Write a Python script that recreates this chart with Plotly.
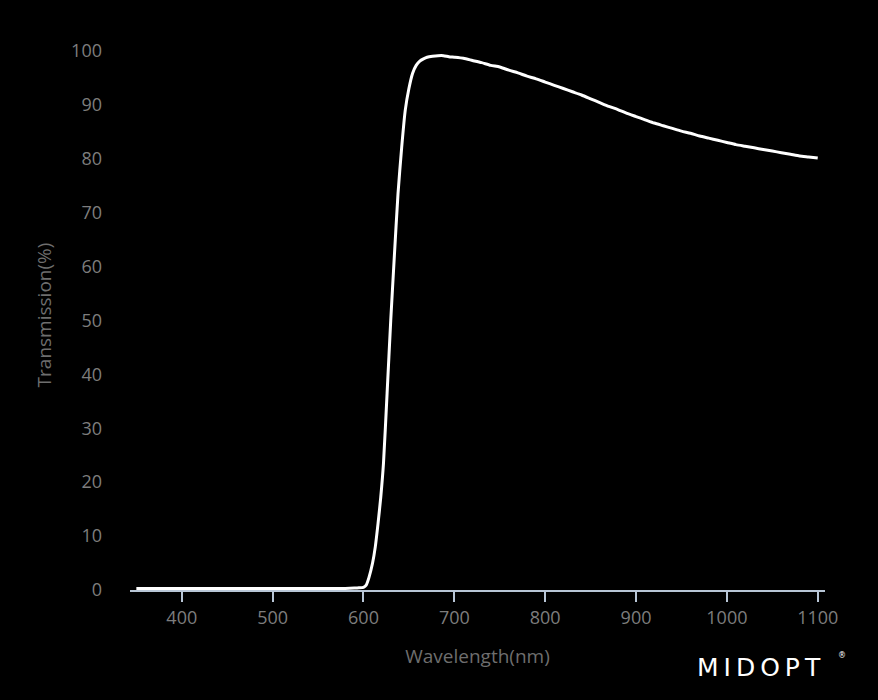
import plotly.graph_objects as go

wavelength = [350, 400, 450, 500, 550, 580, 590, 595, 600, 603, 606, 610, 613, 616, 619, 622, 626, 630, 634, 638,
              642, 646, 650, 654, 658, 662, 666, 670, 676, 682, 688, 694, 700, 710, 720, 730, 740, 750, 760, 770,
              780, 790, 800, 810, 820, 830, 840, 850, 860, 870, 880, 890, 900, 910, 920, 930, 940, 950, 960, 970,
              980, 990, 1000, 1010, 1020, 1030, 1040, 1050, 1060, 1070, 1080, 1090, 1100]
transmission = [0.3, 0.3, 0.3, 0.3, 0.3, 0.3, 0.35, 0.4, 0.5, 0.9, 2.3, 5.0, 8.0, 12.3, 17.2, 23.5, 36.5, 50.0, 62.0, 73.5,
                82.0, 89.0, 93.0, 95.8, 97.3, 98.1, 98.5, 98.8, 99.0, 99.1, 99.1, 98.9, 98.8, 98.6, 98.2, 97.8, 97.3, 97.0, 96.4, 95.9,
                95.3, 94.8, 94.2, 93.6, 93.0, 92.4, 91.8, 91.1, 90.4, 89.7, 89.1, 88.4, 87.8, 87.2, 86.6, 86.1, 85.6, 85.1, 84.7, 84.2,
                83.8, 83.4, 83.0, 82.6, 82.3, 82.0, 81.7, 81.4, 81.1, 80.8, 80.5, 80.3, 80.1]

x_ticks = [400, 500, 600, 700, 800, 900, 1000, 1100]
y_ticks = [0, 10, 20, 30, 40, 50, 60, 70, 80, 90, 100]

FONT = "Open Sans"
LABEL = "#7d7d7d"
W, H = 878, 700
ML, MR, MT, MB = 130, 53, 40, 110


def px_to_paper(px, py):
    return (px - ML) / (W - ML - MR), (H - MB - py) / (H - MT - MB)


fig = go.Figure()
fig.add_trace(go.Scatter(x=wavelength, y=transmission, mode="lines",
                         line=dict(color="#ffffff", width=3, shape="spline", smoothing=0.6),
                         hoverinfo="x+y", showlegend=False))

lx, ly = px_to_paper(761, 667)
rx, ry = px_to_paper(842, 655)

fig.update_layout(
    width=W, height=H,
    paper_bgcolor="#000000", plot_bgcolor="#000000",
    margin=dict(l=ML, r=MR, t=MT, b=MB),
    font=dict(family=FONT, size=18, color=LABEL),
    xaxis=dict(range=[343, 1108], tickvals=x_ticks, showgrid=False, zeroline=False,
               showline=True, linecolor="#b8c6d6", linewidth=2,
               ticks="outside", ticklen=10, tickwidth=2, tickcolor="#b8c6d6",
               tickfont=dict(family=FONT, size=18, color=LABEL),
               title=dict(text="Wavelength(nm)", font=dict(family=FONT, size=19, color="#6e6e6e"), standoff=22)),
    yaxis=dict(range=[0, 102], tickvals=y_ticks, showgrid=False, zeroline=False, showline=False,
               ticks="", ticklabelstandoff=27,
               tickfont=dict(family=FONT, size=18, color=LABEL),
               title=dict(text="Transmission(%)", font=dict(family=FONT, size=19, color="#6e6e6e"), standoff=14)),
    annotations=[
        dict(text='<span style="letter-spacing:5px">MIDOPT</span>', x=lx, y=ly, xref="paper", yref="paper",
             xanchor="center", yanchor="middle", showarrow=False,
             font=dict(family="DejaVu Sans", size=25, color="#ffffff")),
        dict(text="®", x=rx, y=ry, xref="paper", yref="paper", xanchor="center", yanchor="middle",
             showarrow=False, font=dict(family="DejaVu Sans", size=8, color="#ffffff")),
    ],
)

fig.write_html("out.html", config={"displayModeBar": False})

with open("out.html", "r", encoding="utf-8") as f:
    html = f.read()
html = html.replace("<head>", "<head><style>html,body{margin:0;padding:0;background:#000;}</style>", 1)
with open("out.html", "w", encoding="utf-8") as f:
    f.write(html)
